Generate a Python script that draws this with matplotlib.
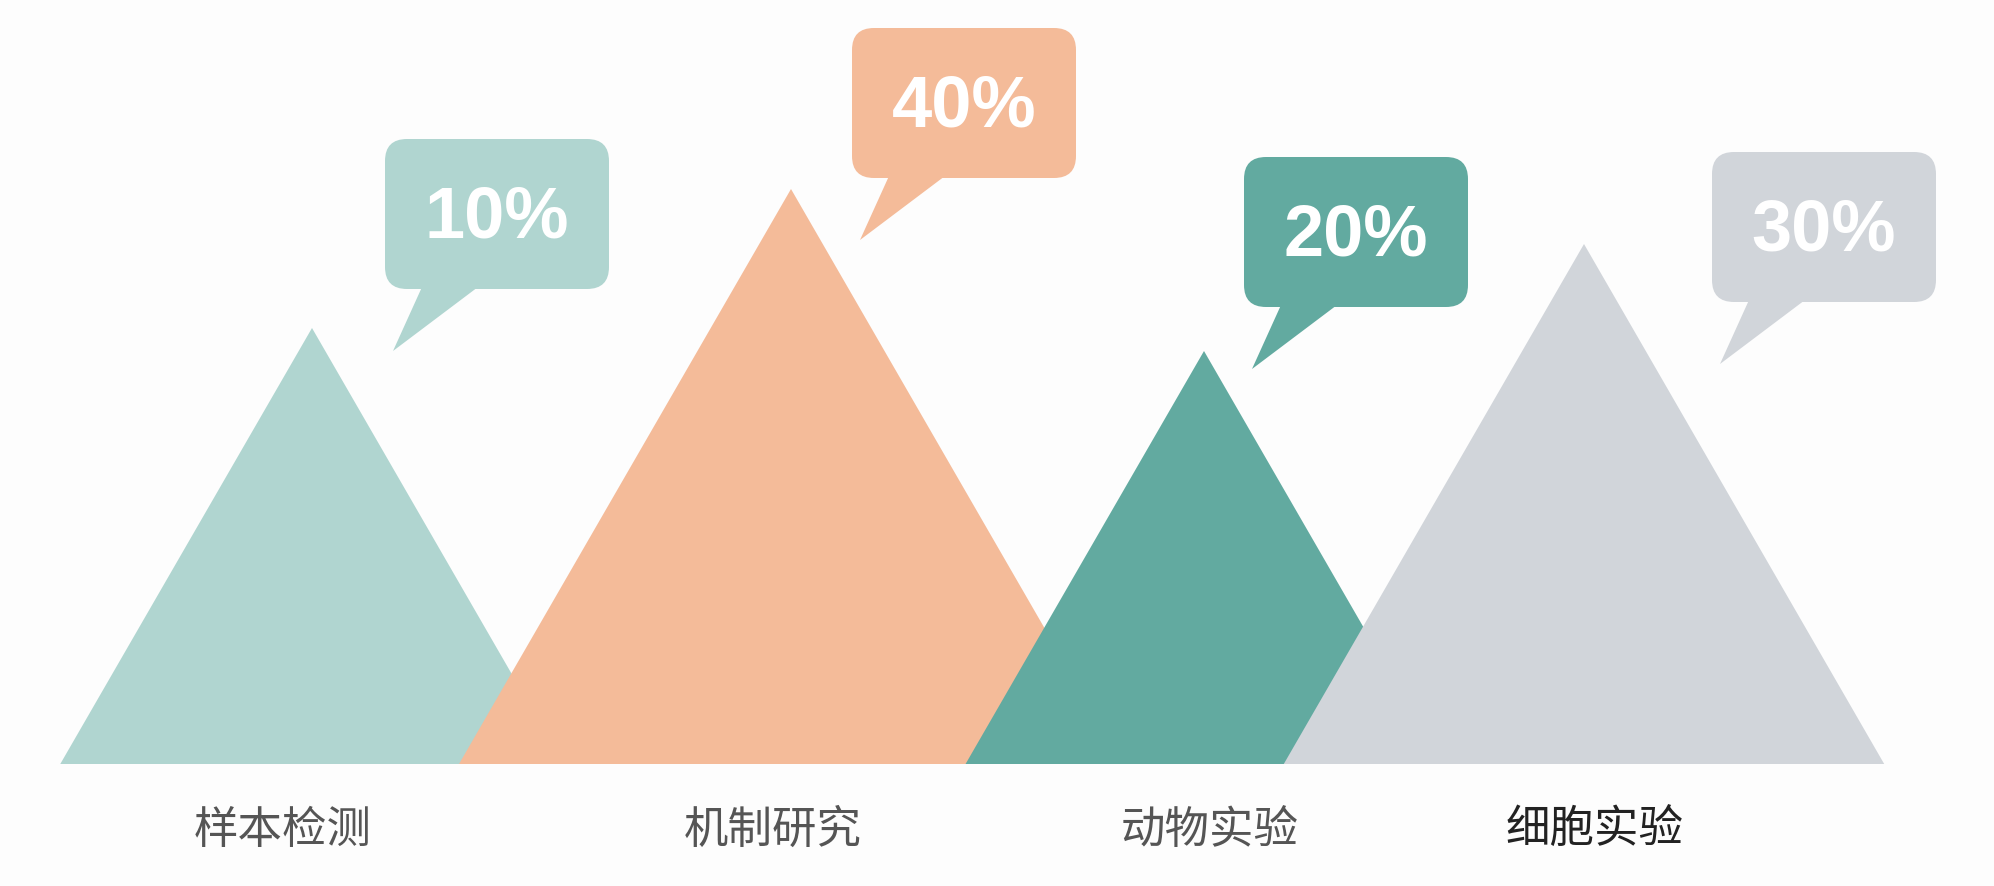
import numpy as np
import matplotlib
matplotlib.use("Agg")
import matplotlib.pyplot as plt
from matplotlib.patches import Polygon, FancyBboxPatch

plt.rcParams["font.family"] = ["Noto Sans CJK SC", "DejaVu Sans"]

# data
categories = ["样本检测", "机制研究", "动物实验", "细胞实验"]
shares = ["10%", "40%", "20%", "30%"]
peak_x = [312, 791, 1204, 1584]
peak_h = [436, 575, 413, 520]
label_x = [283, 773, 1210, 1595]
bubble_x = [497, 964, 1356, 1824]
bubble_y = [550, 661, 532, 537]
colors = ["#B0D5D0", "#F4BB99", "#62AAA0", "#D1D5DA"]
label_colors = ["#555555", "#555555", "#555555", "#222222"]

W, H = 1994, 886
BASE = 764  # baseline distance from top in px

fig = plt.figure(figsize=(W / 100, H / 100), dpi=100)
fig.patch.set_facecolor("#FDFDFD")
ax = fig.add_axes([0, 0, 1, 1])
ax.set_xlim(0, W)
ax.set_ylim(BASE - H, BASE)
ax.axis("off")

bw, bh = 224, 150
for i, (px, h) in enumerate(zip(peak_x, peak_h)):
    hw = h / np.sqrt(3)
    ax.add_patch(Polygon([(px - hw, 0), (px + hw, 0), (px, h)],
                         closed=True, facecolor=colors[i], edgecolor="none", zorder=2 + i))

    left = bubble_x[i] - bw / 2
    bottom = bubble_y[i] - bh / 2
    ax.add_patch(FancyBboxPatch((left, bottom), bw, bh,
                                boxstyle="round,pad=0,rounding_size=22",
                                facecolor=colors[i], edgecolor="none", zorder=10))
    ax.add_patch(Polygon([(left + 37, bottom + 2), (left + 93, bottom + 2), (left + 8, bottom - 62)],
                         closed=True, facecolor=colors[i], edgecolor="none", zorder=10))
    ax.text(bubble_x[i], bubble_y[i] - 4, shares[i], ha="center", va="center",
            fontsize=52, fontweight="bold", color="white",
            family=["Liberation Sans", "DejaVu Sans"], zorder=11)

    ax.text(label_x[i], -66, categories[i], ha="center", va="center",
            fontsize=32, color=label_colors[i], zorder=11)

fig.savefig("out.png", dpi=100, facecolor=fig.get_facecolor())
